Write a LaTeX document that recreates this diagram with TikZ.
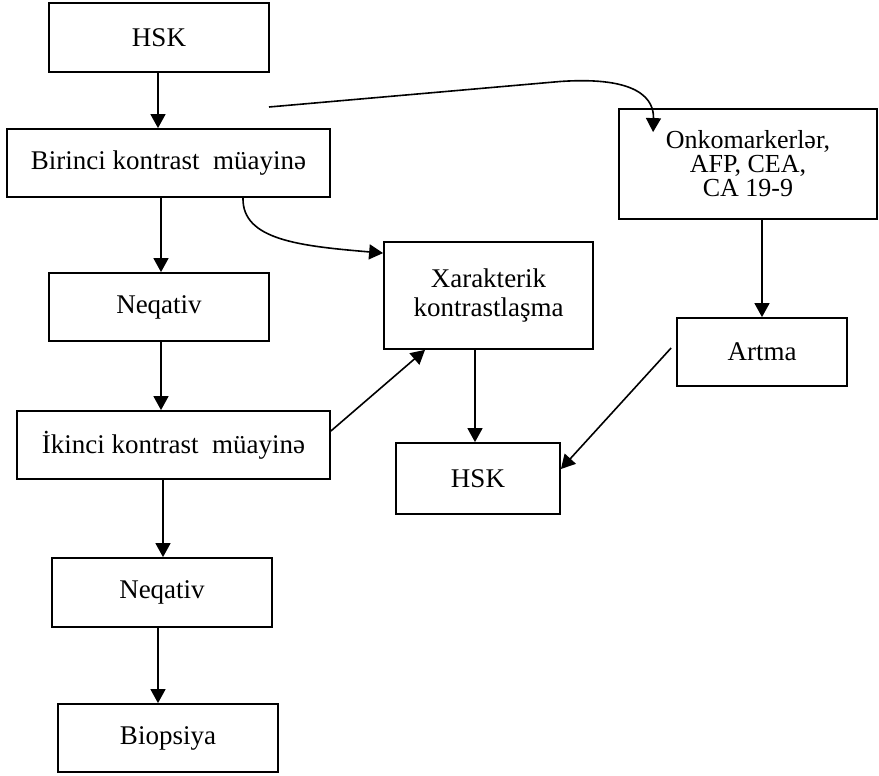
\documentclass[tikz,border=0pt]{standalone}
\usepackage{fontspec}
\setmainfont{Liberation Serif}
\usetikzlibrary{arrows.meta}
\begin{document}
\begin{tikzpicture}[x=1pt,y=-1pt,
  box/.style={draw, line width=1.8pt, rectangle, inner sep=0pt, align=center,
    font=\fontsize{27}{29}\selectfont},
  arr/.style={line width=1.6pt, -{Triangle[length=14pt,width=15pt]}}
]
\useasboundingbox (0,0) rectangle (879,776);

\node[box, minimum width=220pt, minimum height=69pt] (hsk1) at (159,37.5) {HSK};
\node[box, minimum width=323pt, minimum height=68pt] (bir) at (168.5,163) {Birinci kontrast~~müayinə};
\node[box, minimum width=220pt, minimum height=68pt] (neq1) at (159,307) {Neqativ};
\node[box, minimum width=313pt, minimum height=68pt] (iki) at (173.5,445) {İkinci kontrast~~müayinə};
\node[box, minimum width=220pt, minimum height=69pt] (neq2) at (162,592.5) {Neqativ};
\node[box, minimum width=220pt, minimum height=68pt] (bio) at (168,738) {Biopsiya};
\node[box, minimum width=209pt, minimum height=107pt] (xar) at (488.5,295.5) {Xarakterik\\kontrastlaşma};
\node[box, minimum width=164pt, minimum height=71pt] (hsk2) at (478,478.5) {HSK};
\node[box, minimum width=258pt, minimum height=110pt, font=\fontsize{26}{24}\selectfont] (onk) at (748,164) {Onkomarkerlər,\\AFP, CEA,\\CA 19-9};
\node[box, minimum width=170pt, minimum height=68pt] (art) at (762,352) {Artma};

\coordinate (c1) at (269,107);

\draw[arr] ([xshift=-1pt]hsk1.south) -- ([xshift=-10.5pt]bir.north);
\draw[arr] ([xshift=-7.5pt]bir.south) -- ([xshift=2pt]neq1.north);
\draw[arr] ([xshift=2pt]neq1.south) -- ([xshift=-12.5pt]iki.north);
\draw[arr] ([xshift=-10.5pt]iki.south) -- ([xshift=1pt]neq2.north);
\draw[arr] ([xshift=-4pt]neq2.south) -- ([xshift=-10pt]bio.north);
\draw[arr] ([xshift=-13.5pt]xar.south) -- ([xshift=-3pt]hsk2.north);
\draw[arr] ([xshift=14pt]onk.south) -- (art.north);

\draw[arr] ([yshift=14pt]iki.east) -- ([xshift=-63.5pt]xar.south);
\draw[arr] ([xshift=-5pt,yshift=4pt]art.west) -- ([yshift=9.5pt]hsk2.east);

\draw[arr] ([xshift=74.5pt]bir.south) .. controls (242,240) and (300,246) .. ([yshift=-12pt]xar.north west);
\draw[arr] (c1) -- (560,81.5) .. controls (640,76) and (654,100) .. ([xshift=35pt,yshift=-24pt]onk.north west);
\end{tikzpicture}
\end{document}
